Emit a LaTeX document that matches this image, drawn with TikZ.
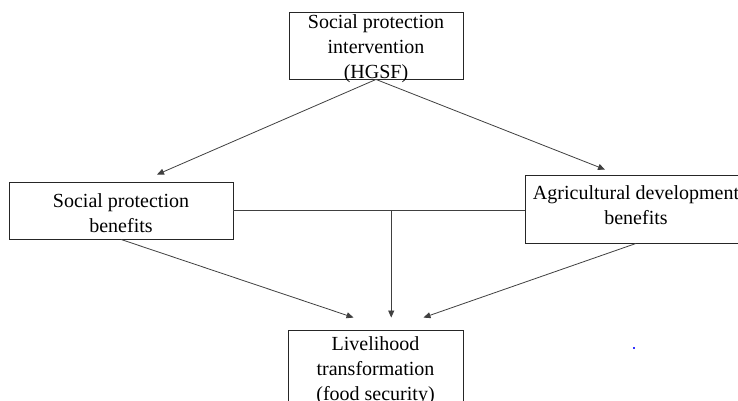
\documentclass[tikz,border=0pt]{standalone}
\usepackage{fontspec}
\setmainfont{Liberation Serif}
\usetikzlibrary{arrows.meta,calc}
\begin{document}
\begin{tikzpicture}[x=1pt,y=-1pt,
  box/.style={draw=black!85,line width=0.9pt,inner sep=0pt},
  txt/.style={inner sep=0pt,align=center,font=\fontsize{20}{25}\selectfont},
  conn/.style={draw=black!75,line width=0.8pt},
  arr/.style={conn,-{Triangle[length=7pt,width=6pt]}}]
\useasboundingbox (0,0) rectangle (738,401);
\clip (0,0) rectangle (738,401);
\fill[white] (0,0) rectangle (738,401);
% boxes
\node[box,minimum width=174pt,minimum height=67pt] (T) at (376,45.5) {};
\node[txt] (Tt) at (376,48.5) {Social protection\\intervention\\(HGSF)};
\node[box,minimum width=224pt,minimum height=57pt] (L) at (121,210.5) {};
\node[txt] (Lt) at (121,213) {Social protection\\benefits};
\node[box,minimum width=222pt,minimum height=68pt] (R) at (636,209) {};
\node[txt] (Rt) at (636,205.5) {Agricultural development\\benefits};
\node[box,minimum width=175pt,minimum height=76pt] (B) at (375.5,368) {};
\node[txt] (Bt) at (375.5,370.5) {Livelihood\\transformation\\(food security)};
% connectors
\coordinate (LT) at ($(L.north)+(36,-7)$);
\coordinate (RT) at ($(R.north)+(-31,-5)$);
\draw[arr] (T.south) -- (LT);
\draw[arr] (T.south) -- (RT);
\draw[conn] (L.east) -- (L.east -| R.west);
\coordinate (J) at ($(L.east)!0.542!(L.east -| R.west)$);
\coordinate (BL) at ($(B.north)+(-22,-12)$);
\coordinate (BM) at (J |- BL);
\coordinate (BR) at ($(B.north)+(48,-12)$);
\draw[arr] (J) -- (BM);
\draw[arr] (L.south) -- (BL);
\draw[arr] (R.south) -- (BR);
% stray blue dot
\fill[blue!80] (633,347) rectangle (635,349);
\end{tikzpicture}
\end{document}
